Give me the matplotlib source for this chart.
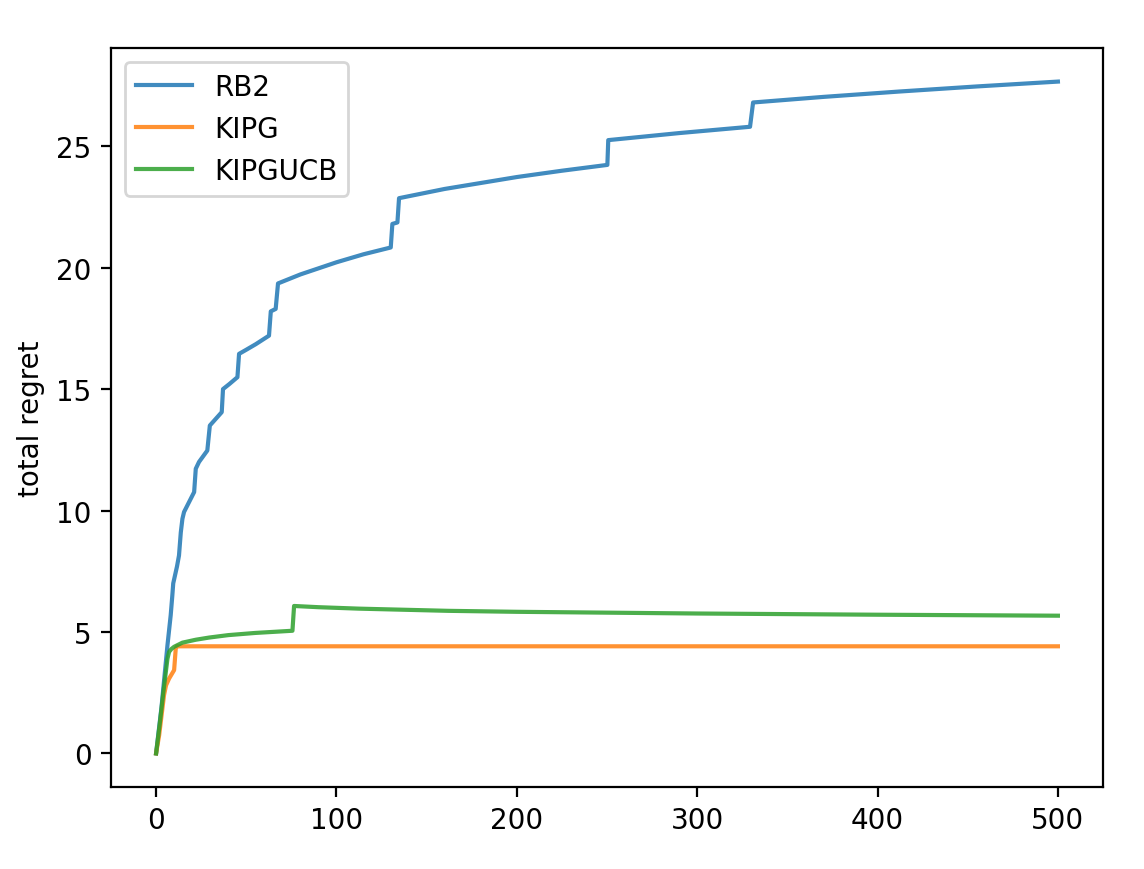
import matplotlib
matplotlib.use("Agg")
import matplotlib.pyplot as plt

rb2_x = [0, 3, 6.3, 8.1, 9.0, 9.5, 11.6, 12.7, 13.7, 14.6, 15.5, 18.3, 21.1, 22.0, 23.8, 28.4,
         29.8, 32.2, 36.4, 37.1, 40.5, 45.1, 46.0, 50, 55.3, 62.6, 63.6, 66.3, 67.6, 80, 100, 115,
         130.1, 131.0, 133.8, 134.7, 160, 200, 225, 250.2, 250.7, 290, 329.3, 331.0, 370,
         411.9, 455, 500]
rb2_y = [0, 1.9, 4.45, 5.69, 6.5, 7.0, 7.7, 8.15, 9.1, 9.66, 9.94, 10.35, 10.76, 11.72, 12.0, 12.47,
         13.5, 13.7, 14.05, 15.0, 15.2, 15.49, 16.45, 16.62, 16.85, 17.2, 18.2, 18.3, 19.35, 19.72, 20.22, 20.55,
         20.83, 21.8, 21.86, 22.86, 23.24, 23.73, 23.99, 24.23, 25.25, 25.54, 25.8, 26.8, 27.03,
         27.25, 27.46, 27.66]

kipg_x = [0, 1.7, 4.4, 5.5, 7.2, 10.0, 10.9, 11.5, 500]
kipg_y = [0, 0.75, 2.4, 2.8, 3.08, 3.43, 4.32, 4.41, 4.41]

ucb_x = [0, 2, 4, 6.3, 7.2, 8.5, 10, 14.6, 22, 29.4, 40, 55, 75.6, 76.5, 90, 112.5,
         162, 200, 300, 400, 500]
ucb_y = [0, 1.2, 2.5, 3.9, 4.18, 4.3, 4.39, 4.56, 4.68, 4.77, 4.87, 4.96, 5.05, 6.07, 6.02, 5.96,
         5.87, 5.83, 5.76, 5.71, 5.67]

W, H = 1144, 870
fig = plt.figure(figsize=(W / 200, H / 200), dpi=200)
ax = fig.add_axes([111 / W, 1 - 788 / H, 992 / W, 739 / H])

ax.plot(rb2_x, rb2_y, label="RB2", color="#1f77b4", alpha=0.85, lw=1.5)
ax.plot(kipg_x, kipg_y, label="KIPG", color="#ff7f0e", alpha=0.85, lw=1.5)
ax.plot(ucb_x, ucb_y, label="KIPGUCB", color="#2ca02c", alpha=0.85, lw=1.5)

ax.set_ylabel("total regret")
ax.set_xticks([0, 100, 200, 300, 400, 500])
ax.set_yticks([0, 5, 10, 15, 20, 25])
ax.legend(loc="upper left")

fig.savefig("out.png", dpi=200)
